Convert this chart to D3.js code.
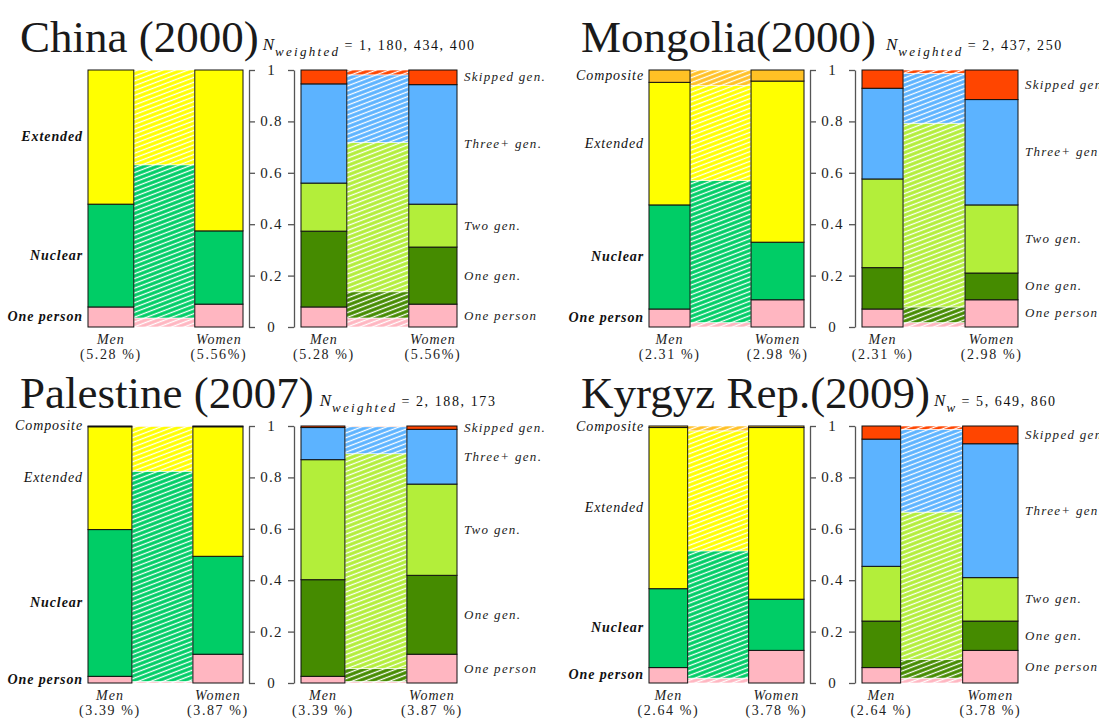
<!DOCTYPE html>
<html>
<head>
<meta charset="utf-8">
<script src="https://cdn.jsdelivr.net/npm/d3@7"></script>
<style>
    body { margin: 0; background: #fff; }
    svg  { display: block; font-family: "Liberation Serif", "DejaVu Serif", serif; }
</style>
</head>
<body>
<div id="chart"></div>
<script>
// ============================================================================
// DATA
// ============================================================================

const titles         = ["China (2000)", "Mongolia(2000)", "Palestine (2007)", "Kyrgyz Rep.(2009)"];
const nSubs          = ["weighted", "weighted", "weighted", "w"];
const nValues        = ["1, 180, 434, 400", "2, 437, 250", "2, 188, 173", "5, 649, 860"];
const menPct         = [5.28, 2.31, 3.39, 2.64];
const womenPct       = [5.56, 2.98, 3.87, 3.78];
const menPctLabels   = ["(5.28 %)", "(2.31 %)", "(3.39 %)", "(2.64 %)"];
const womenPctLabels = ["(5.56%)", "(2.98 %)", "(3.87 %)", "(3.78 %)"];

const typeCats = ["One person", "Nuclear", "Extended", "Composite"];
const genCats  = ["One person", "One gen.", "Two gen.", "Three+ gen.", "Skipped gen."];

// household type shares (men, women, whole population = hatched band)
const typeMen = [
    [0.078, 0.400, 0.522, 0],
    [0.070, 0.405, 0.477, 0.048],
    [0.026, 0.571, 0.400, 0.003],
    [0.060, 0.307, 0.627, 0.006]
];
const typeWomen = [
    [0.089, 0.285, 0.626, 0],
    [0.106, 0.224, 0.627, 0.043],
    [0.112, 0.381, 0.504, 0.003],
    [0.127, 0.199, 0.668, 0.006]
];
const typeAll = [
    [0.035, 0.596, 0.369, 0],
    [0.017, 0.553, 0.369, 0.061],
    [0.006, 0.818, 0.174, 0.002],
    [0.019, 0.495, 0.467, 0.019]
];

// generation shares
const genMen = [
    [0.078, 0.295, 0.187, 0.386, 0.054],
    [0.070, 0.161, 0.345, 0.353, 0.071],
    [0.026, 0.376, 0.467, 0.125, 0.006],
    [0.060, 0.181, 0.213, 0.495, 0.051]
];
const genWomen = [
    [0.089, 0.222, 0.167, 0.465, 0.057],
    [0.106, 0.104, 0.265, 0.410, 0.115],
    [0.112, 0.307, 0.355, 0.213, 0.013],
    [0.127, 0.114, 0.169, 0.521, 0.069]
];
const genAll = [
    [0.035, 0.102, 0.581, 0.263, 0.019],
    [0.017, 0.061, 0.715, 0.194, 0.013],
    [0.006, 0.050, 0.836, 0.105, 0.003],
    [0.019, 0.072, 0.574, 0.322, 0.013]
];

// which type labels are printed in bold
const typeBold = [
    [true, true, true, false],
    [true, true, false, false],
    [true, true, false, false],
    [true, true, false, false]
];

const tickValues = [0, 0.2, 0.4, 0.6, 0.8, 1];

const typeColors = ["#FFB6C1", "#00CD66", "#FFFF00", "#FFC125"];
const genColors  = ["#FFB6C1", "#458B00", "#B3EE3A", "#5CB3FF", "#FF4500"];


// ============================================================================
// LAYOUT
// ============================================================================

const W = 1099, H = 719;
const panelDX = 561, panelDY = 356;
const yTop = 70, yBot = 327;
const leftX0 = 88,  leftX1 = 243;
const rightX0 = 301, rightX1 = 457;
const axisL = 249, axisR = 294;
const barsTotal = 94;
const nGap = [4, 10, 6, 4];

const svg = d3.select("#chart")
    .append("svg")
    .attr("width", W)
    .attr("height", H);

const defs = svg.append("defs");

function hatchId(color) { return "h" + color.slice(1); }

[...new Set([...typeColors, ...genColors])].forEach(c => {
    const p = defs.append("pattern")
        .attr("id", hatchId(c))
        .attr("patternUnits", "userSpaceOnUse")
        .attr("width", 8).attr("height", 4.5)
        .attr("patternTransform", "rotate(-21)");
    p.append("rect").attr("width", 8).attr("height", 4.5).attr("fill", c);
    p.append("line")
        .attr("x1", 0).attr("x2", 8).attr("y1", 2.25).attr("y2", 2.25)
        .attr("stroke", "#fff").attr("stroke-width", 1.3);
});

const y = d3.scaleLinear().domain([0, 1]).range([yBot, yTop]);

function stack(arr) {
    const cum = d3.cumsum(arr);
    return arr.map((v, k) => ({ k, v, y0: cum[k] - v, y1: cum[k] }));
}


// ============================================================================
// DRAW ONE STACKED PAIR (men bar, hatched population band, women bar)
// ============================================================================

function drawPair(g, x0, x1, mPct, wPct, men, women, all, colors) {
    const mW = barsTotal * mPct / (mPct + wPct);
    const wW = barsTotal - mW;
    const xm = x0, xw = x1 - wW;

    const hatch = g.append("g");
    hatch.selectAll("rect")
        .data(stack(all).filter(d => d.v > 0))
        .join("rect")
        .attr("x", xm + mW)
        .attr("width", xw - xm - mW)
        .attr("y", d => y(d.y1))
        .attr("height", d => y(d.y0) - y(d.y1))
        .attr("fill", d => `url(#${hatchId(colors[d.k])})`)
        .attr("stroke", "#fff")
        .attr("stroke-width", 0.6);

    [[xm, mW, men], [xw, wW, women]].forEach(([bx, bw, arr]) => {
        g.append("g").selectAll("rect")
            .data(stack(arr).filter(d => d.v > 0))
            .join("rect")
            .attr("x", bx)
            .attr("width", bw)
            .attr("y", d => y(d.y1))
            .attr("height", d => y(d.y0) - y(d.y1))
            .attr("fill", d => colors[d.k])
            .attr("stroke", "#111")
            .attr("stroke-width", 1);
    });

    return { mid: [xm + mW / 2, xw + wW / 2], men: stack(men), women: stack(women) };
}


// ============================================================================
// DRAW PANELS
// ============================================================================

function drawPanel(i) {
    const col = i % 2, row = Math.floor(i / 2);
    const g = svg.append("g")
        .attr("transform", `translate(${col * panelDX},${row * panelDY})`);

    // title + N
    const title = g.append("text")
        .attr("x", 20).attr("y", 52)
        .style("font-size", "45px")
        .attr("fill", "#1a1a1a")
        .text(titles[i]);
    const tEnd = 20 + title.node().getComputedTextLength();

    const nText = g.append("text")
        .attr("x", tEnd + nGap[i]).attr("y", 50)
        .attr("fill", "#111");
    nText.append("tspan").style("font-size", "17px").style("font-style", "italic").text("N");
    nText.append("tspan").attr("dy", 6).attr("dx", 1)
        .style("font-size", "13px").style("font-style", "italic")
        .style("letter-spacing", "2.3px").text(nSubs[i]);
    nText.append("tspan").attr("dy", -6).attr("dx", 4)
        .style("font-size", "14px").style("letter-spacing", "1.6px")
        .text("= " + nValues[i]);

    // left chart: household type
    const left = drawPair(g, leftX0, leftX1, menPct[i], womenPct[i],
        typeMen[i], typeWomen[i], typeAll[i], typeColors);

    g.append("g").selectAll("text")
        .data(left.men.filter(d => d.v > 0))
        .join("text")
        .attr("x", 83)
        .attr("y", d => y((d.y0 + d.y1) / 2) + 4)
        .attr("text-anchor", "end")
        .style("font-size", "14px")
        .style("font-style", "italic")
        .style("font-weight", d => typeBold[i][d.k] ? "bold" : "normal")
        .style("letter-spacing", "0.9px")
        .attr("fill", "#111")
        .text(d => typeCats[d.k]);

    // right chart: generations
    const right = drawPair(g, rightX0, rightX1, menPct[i], womenPct[i],
        genMen[i], genWomen[i], genAll[i], genColors);

    g.append("g").selectAll("text")
        .data(right.women)
        .join("text")
        .attr("x", 464)
        .attr("y", d => y((d.y0 + d.y1) / 2) + 4)
        .style("font-size", "13px")
        .style("font-style", "italic")
        .style("letter-spacing", "1.3px")
        .attr("fill", "#222")
        .text(d => genCats[d.k]);

    // axes between the two charts
    g.append("g")
        .attr("transform", `translate(${axisL},0)`)
        .call(d3.axisRight(y).tickValues(tickValues).tickSize(6).tickSizeOuter(0).tickFormat(""))
        .call(a => a.selectAll("path, line").attr("stroke", "#555").attr("stroke-width", 1.3));
    g.append("g")
        .attr("transform", `translate(${axisR},0)`)
        .call(d3.axisLeft(y).tickValues(tickValues).tickSize(6).tickSizeOuter(0).tickFormat(""))
        .call(a => a.selectAll("path, line").attr("stroke", "#555").attr("stroke-width", 1.3));

    g.append("g").selectAll("text")
        .data(tickValues)
        .join("text")
        .attr("x", (axisL + axisR) / 2)
        .attr("y", d => y(d) + 5)
        .attr("text-anchor", "middle")
        .style("font-size", "15px")
        .style("letter-spacing", "1.2px")
        .attr("fill", "#222")
        .text(d => d === 0 || d === 1 ? String(d) : d.toFixed(1));

    // Men / Women labels under both charts
    [left, right].forEach(ch => {
        [["Men", menPctLabels[i]], ["Women", womenPctLabels[i]]].forEach(([lab, pct], j) => {
            g.append("text")
                .attr("x", ch.mid[j]).attr("y", yBot + 17)
                .attr("text-anchor", "middle")
                .style("font-size", "14px").style("font-style", "italic")
                .style("letter-spacing", "1px")
                .attr("fill", "#222")
                .text(lab);
            g.append("text")
                .attr("x", ch.mid[j]).attr("y", yBot + 32)
                .attr("text-anchor", "middle")
                .style("font-size", "14px")
                .style("letter-spacing", "1.6px")
                .attr("fill", "#222")
                .text(pct);
        });
    });
}

titles.forEach((t, i) => drawPanel(i));
</script>
</body>
</html>
